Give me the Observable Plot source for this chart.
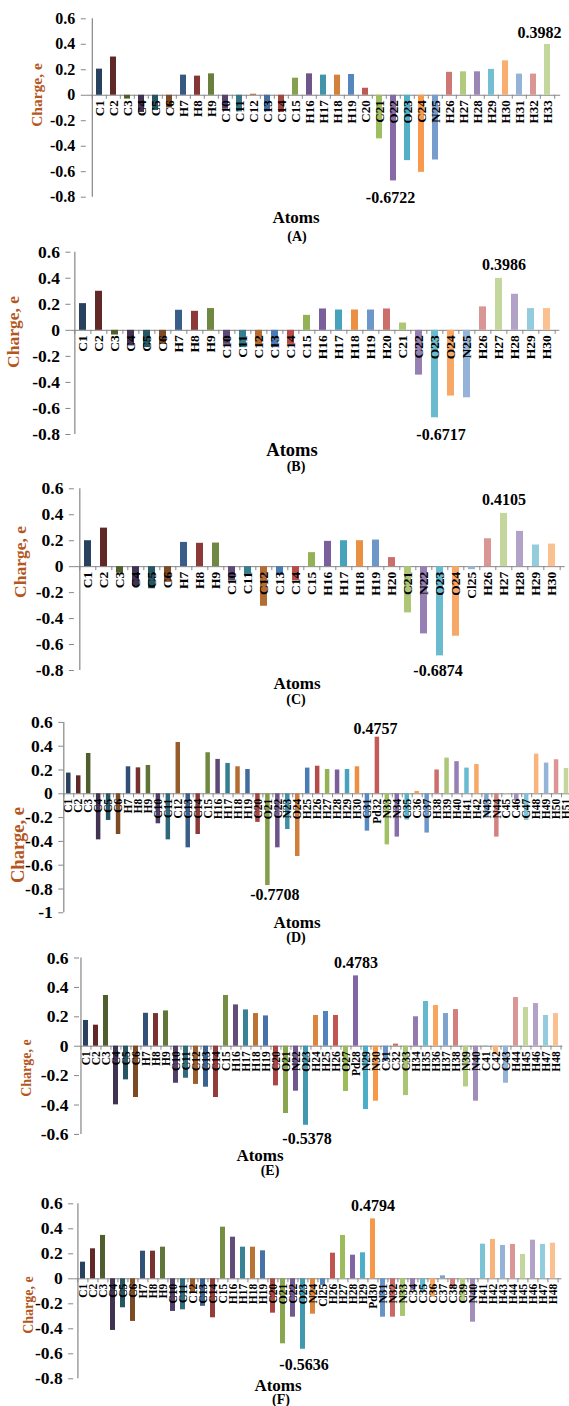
<!DOCTYPE html>
<html><head><meta charset="utf-8">
<script src="https://cdn.jsdelivr.net/npm/d3@7"></script>
<script src="https://cdn.jsdelivr.net/npm/@observablehq/plot@0.6"></script>
<style>
html,body{margin:0;padding:0;background:#fff;}
body{width:569px;height:1406px;position:relative;overflow:hidden;font-family:"Liberation Serif","Times New Roman",serif;}
.panel{position:absolute;left:0;width:569px;}
.panel svg{overflow:visible;}
.panel svg text{font-family:"Liberation Serif","Times New Roman",serif !important;font-weight:bold;}
.lbl{position:absolute;font-weight:bold;color:#000;white-space:nowrap;transform:translate(-50%,-50%);line-height:1;}
.ylab{position:absolute;font-weight:bold;color:#b4561e;white-space:nowrap;transform:translate(-50%,-50%) rotate(-90deg);line-height:1;}
</style></head><body>
<script>
// ---------- data ----------
const atomsA = ["C1","C2","C3","C4","C5","C6","H7","H8","H9","C10","C11","C12","C13","C14","C15","H16","H17","H18","H19","C20","C21","O22","O23","C24","N25","H26","H27","H28","H29","H30","H31","H32","H33"];
const chargesA = [0.205,0.30,-0.03,-0.135,-0.12,-0.10,0.158,0.15,0.168,-0.11,-0.13,0.008,-0.13,-0.135,0.134,0.168,0.158,0.158,0.163,0.055,-0.342,-0.6722,-0.513,-0.605,-0.508,0.18,0.184,0.184,0.203,0.27,0.166,0.166,0.3982];

const atomsB = ["C1","C2","C3","C4","C5","C6","H7","H8","H9","C10","C11","C12","C13","C14","C15","H16","H17","H18","H19","H20","C21","C22","O23","O24","N25","H26","H27","H28","H29","H30"];
const chargesB = [0.205,0.30,-0.036,-0.12,-0.133,-0.108,0.154,0.146,0.167,-0.108,-0.133,-0.12,-0.133,-0.108,0.115,0.164,0.156,0.156,0.156,0.164,0.056,-0.344,-0.6717,-0.505,-0.518,0.18,0.3986,0.277,0.167,0.167];

const atomsC = ["C1","C2","C3","C4","C5","C6","H7","H8","H9","C10","C11","C12","C13","C14","C15","H16","H17","H18","H19","H20","C21","N22","O23","O24","Cl25","H26","H27","H28","H29","H30"];
const chargesC = [0.20,0.297,-0.05,-0.15,-0.17,-0.12,0.187,0.18,0.182,-0.11,-0.07,-0.305,-0.067,-0.108,0.108,0.195,0.20,0.20,0.205,0.07,-0.356,-0.518,-0.6874,-0.536,-0.023,0.215,0.4105,0.272,0.167,0.174];

const atomsD = ["C1","C2","C3","C4","C5","C6","H7","H8","H9","C10","C11","C12","C13","C14","C15","H16","H17","H18","H19","C20","O21","C22","N23","O24","H25","H26","H27","H28","H29","H30","C31","Pd32","N33","N34","C35","C36","C37","H38","H39","H40","H41","H42","N43","N44","C45","C46","C47","H48","H49","H50","H51"];
const chargesD = [0.174,0.151,0.339,-0.387,-0.224,-0.342,0.227,0.218,0.238,-0.252,-0.387,0.431,-0.454,-0.342,0.345,0.289,0.255,0.227,0.204,-0.24,-0.7708,-0.454,-0.30,-0.527,0.216,0.232,0.204,0.20,0.204,0.227,-0.314,0.4757,-0.429,-0.364,-0.22,0.02,-0.33,0.20,0.30,0.27,0.216,0.246,-0.2,-0.364,-0.005,-0.062,-0.224,0.333,0.258,0.286,0.213];

const atomsE = ["C1","C2","C3","C4","C5","C6","H7","H8","H9","C10","C11","C12","C13","C14","C15","H16","H17","H18","H19","C20","O21","N22","O23","H24","H25","H26","O27","Pd28","N29","N30","C31","C32","C33","H34","H35","H36","H37","H38","N39","N40","C41","C42","C43","H44","H45","H46","H47","H48"];
const chargesE = [0.175,0.143,0.345,-0.399,-0.229,-0.349,0.224,0.222,0.24,-0.252,-0.218,-0.26,-0.279,-0.349,0.345,0.281,0.247,0.222,0.206,-0.27,-0.458,-0.306,-0.5378,0.209,0.236,0.209,-0.308,0.4783,-0.431,-0.374,-0.104,0.014,-0.336,0.20,0.304,0.277,0.222,0.249,-0.277,-0.374,0.003,-0.059,-0.252,0.331,0.263,0.29,0.209,0.222];

const atomsF = ["C1","C2","C3","C4","C5","C6","H7","H8","H9","C10","C11","C12","C13","C14","C15","H16","H17","H18","H19","C20","O21","C22","O23","N24","Cl25","H26","H27","H28","H29","Pd30","N31","N32","N33","C34","C35","C36","C37","C38","C39","N40","H41","H42","H43","H44","H45","H46","H47","H48"];
const chargesF = [0.133,0.24,0.347,-0.413,-0.232,-0.341,0.221,0.221,0.253,-0.261,-0.248,-0.11,-0.22,-0.312,0.413,0.333,0.253,0.253,0.224,-0.275,-0.52,-0.307,-0.5636,-0.283,-0.053,0.205,0.347,0.189,0.208,0.4794,-0.307,-0.307,-0.301,-0.093,-0.107,-0.147,0.024,-0.072,-0.187,-0.347,0.277,0.315,0.267,0.275,0.195,0.309,0.275,0.285];

const ticksStd = [0.6,0.4,0.2,0,-0.2,-0.4,-0.6,-0.8];
const ticksD = [0.6,0.4,0.2,0,-0.2,-0.4,-0.6,-0.8,-1];
const ticksE = [0.6,0.4,0.2,0,-0.2,-0.4,-0.6];
const panelLetters = ["(A)","(B)","(C)","(D)","(E)","(F)"];
const xTitle = "Atoms";
const yTitle = "Charge, e";

// ---------- layout / style ----------
const serif = '"Liberation Serif","Times New Roman",serif';
const accents = ["#4F81BD","#C0504D","#9BBB59","#8064A2","#4BACC6","#F79646"];
function pointColor(i, n) {
  const K = Math.ceil(n / 6), k = Math.floor(i / 6);
  const s = -0.5 + 0.9 * k / Math.max(1, K - 1);
  const base = accents[i % 6];
  return s < 0 ? d3.interpolateRgb(base, "#000")(-s) : d3.interpolateRgb(base, "#fff")(s);
}

const panels = [
  {atoms: atomsA, charges: chargesA, ticks: ticksStd, top: 0, height: 245, yTopPx: 18.3, yBotPx: 196.7, x0: 85.8, x1: 560.2,
   tickFont: 16, atomFont: 13, maxOff: [-8, -12], minOff: [-3, 17],
   charge: [36.5, 95, 15.5], atomsLbl: [296, 217, 17], letter: [297, 237, 14]},
  {atoms: atomsB, charges: chargesB, ticks: ticksStd, top: 245, height: 230, yTopPx: 251.7, yBotPx: 434, x0: 70.4, x1: 559.4,
   tickFont: 17.5, atomFont: 13.5, maxOff: [5, -14], minOff: [6, 17],
   charge: [14, 332, 17.5], atomsLbl: [292, 450, 18.5], letter: [296, 467, 14]},
  {atoms: atomsC, charges: chargesC, ticks: ticksStd, top: 475, height: 235, yTopPx: 488.3, yBotPx: 670, x0: 73.9, x1: 564.7,
   tickFont: 17.5, atomFont: 13.5, maxOff: [0, -14], minOff: [-2, 15],
   charge: [21, 562, 17.5], atomsLbl: [297, 683, 17], letter: [296, 700, 14]},
  {atoms: atomsD, charges: chargesD, ticks: ticksD, top: 710, height: 235, yTopPx: 721.9, yBotPx: 912.3, x0: 63.3, x1: 571,
   tickFont: 17.5, atomFont: 11.5, maxOff: [-2, -8], minOff: [7, 9],
   charge: [18, 845, 18.5], atomsLbl: [297, 922, 17], letter: [296, 938, 14]},
  {atoms: atomsE, charges: chargesE, ticks: ticksE, top: 945, height: 235, yTopPx: 957.5, yBotPx: 1133.9, x0: 79, x1: 562.4,
   tickFont: 17.5, atomFont: 11.5, maxOff: [0, -13], minOff: [1, 14],
   charge: [27, 1068, 14], atomsLbl: [260, 1155, 17], letter: [270, 1171, 14]},
  {atoms: atomsF, charges: chargesF, ticks: ticksStd, top: 1180, height: 226, yTopPx: 1203.3, yBotPx: 1378.3, x0: 73.2, x1: 561.4,
   tickFont: 17.5, atomFont: 11.5, maxOff: [0, -13], minOff: [1, 16],
   charge: [29, 1305, 14], atomsLbl: [278, 1385, 17], letter: [281, 1400, 14]}
];

const axisGray = "#868686";

panels.forEach((p, pi) => {
  const n = p.atoms.length;
  const step = (p.x1 - p.x0) / n;
  const yMin = d3.min(p.ticks), yMax = d3.max(p.ticks);
  const data = p.atoms.map((a, i) => ({atom: a, charge: p.charges[i], color: pointColor(i, n)}));
  const iMax = d3.maxIndex(p.charges), iMin = d3.minIndex(p.charges);
  const maxD = [data[iMax]], minD = [data[iMin]];

  const chart = Plot.plot({
    width: 569,
    height: p.height,
    marginTop: p.yTopPx - p.top,
    marginBottom: p.top + p.height - p.yBotPx,
    marginLeft: p.x0,
    marginRight: 569 - p.x1,
    x: {type: "band", domain: p.atoms, range: [p.x0, p.x1], paddingInner: 0.55, paddingOuter: 0.275, axis: null},
    y: {domain: [yMin, yMax], axis: null},
    color: {type: "identity"},
    style: {fontFamily: serif, fontSize: p.tickFont + "px", fontWeight: "bold", color: "#000", background: "transparent", overflow: "visible"},
    marks: [
      Plot.ruleY([0], {stroke: axisGray, strokeWidth: 1}),
      Plot.ruleX(p.atoms, {x: d => d, y1: 0, y2: 0, insetBottom: -4, dx: -step / 2, stroke: axisGray}),
      Plot.ruleX([p.atoms[n - 1]], {x: d => d, y1: 0, y2: 0, insetBottom: -4, dx: step / 2, stroke: axisGray}),
      Plot.ruleX([p.atoms[0]], {x: d => d, y1: yMin, y2: yMax, dx: -step / 2, stroke: axisGray, strokeWidth: 1.2}),
      Plot.axisY({ticks: p.ticks, tickFormat: d => String(d), tickSize: 5, tickPadding: 6, stroke: axisGray, fill: "#000", label: null, fontFamily: serif, fontSize: p.tickFont, fontWeight: "bold"}),
      Plot.barY(data, {x: "atom", y: "charge", fill: "color"}),
      Plot.text(data, {x: "atom", y: 0, text: "atom", rotate: -90, textAnchor: "end", dy: 5, fontSize: p.atomFont, fontWeight: "bold", fontFamily: serif, fill: "#000"}),
      Plot.text(maxD, {x: "atom", y: "charge", text: d => String(d.charge), dx: p.maxOff[0], dy: p.maxOff[1], fontSize: 16, fontWeight: "bold", fontFamily: serif, fill: "#000"}),
      Plot.text(minD, {x: "atom", y: "charge", text: d => String(d.charge), dx: p.minOff[0], dy: p.minOff[1], fontSize: 16, fontWeight: "bold", fontFamily: serif, fill: "#000"})
    ]
  });

  const div = document.createElement("div");
  div.className = "panel";
  div.style.top = p.top + "px";
  div.style.height = p.height + "px";
  div.appendChild(chart);
  document.body.appendChild(div);

  const addLbl = (cls, text, pos) => {
    const el = document.createElement("div");
    el.className = cls;
    el.textContent = text;
    el.style.left = pos[0] + "px";
    el.style.top = pos[1] + "px";
    el.style.fontSize = pos[2] + "px";
    document.body.appendChild(el);
  };
  addLbl("ylab", yTitle, p.charge);
  addLbl("lbl", xTitle, p.atomsLbl);
  addLbl("lbl", panelLetters[pi], p.letter);
});
</script>
</body></html>
